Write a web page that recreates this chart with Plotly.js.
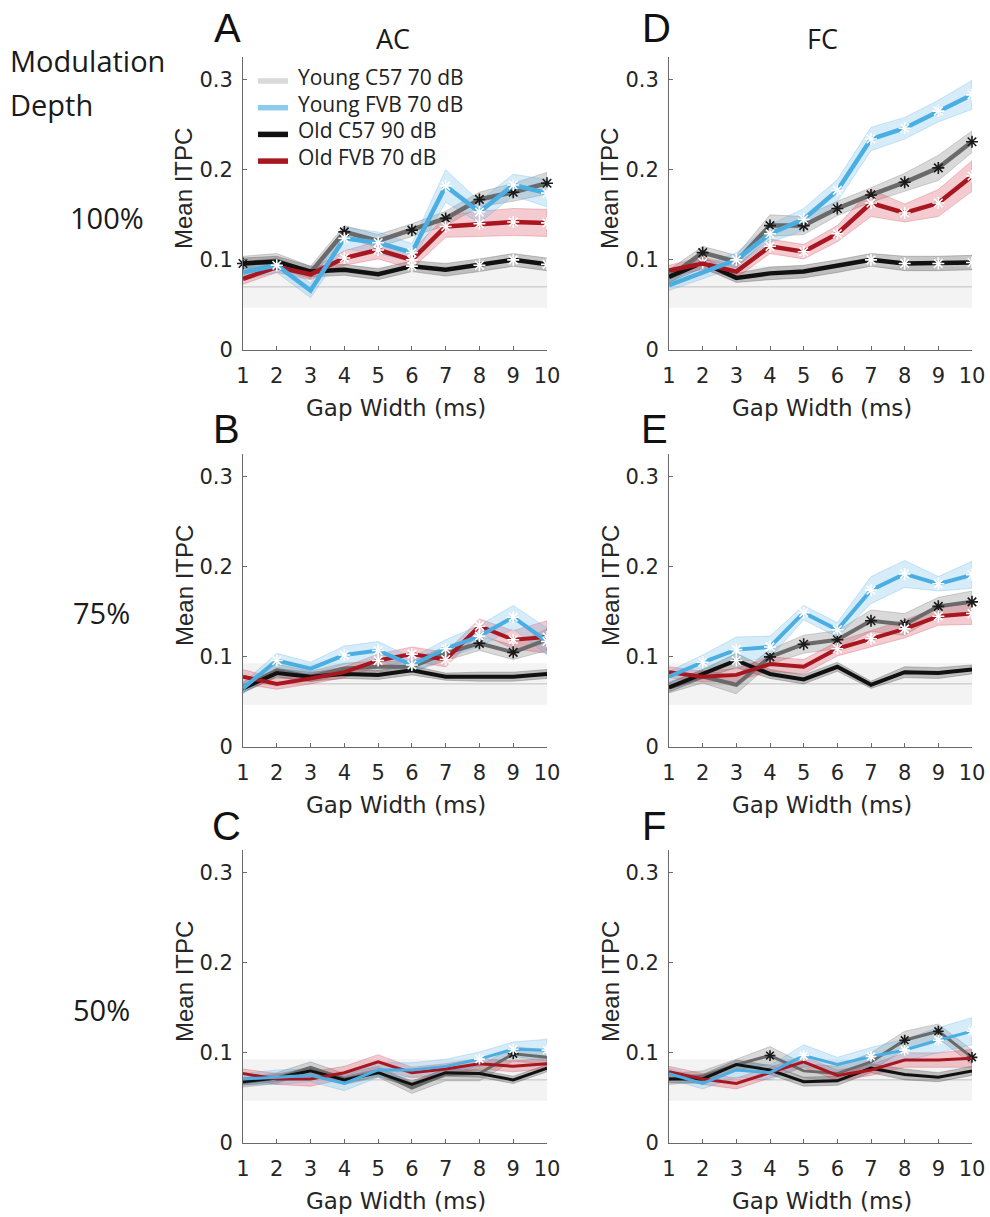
<!DOCTYPE html>
<html>
<head>
<meta charset="utf-8">
<script src="https://cdn.plot.ly/plotly-3.0.1.min.js"></script>
<style>
  html, body { margin: 0; padding: 0; background: #fff; }
  #chart { width: 990px; height: 1217px; }
</style>
</head>
<body>
<div id="chart"></div>
<script>
// ---- Gap widths (ms) and axis ticks ----
const gapWidths = [1, 2, 3, 4, 5, 6, 7, 8, 9, 10];
const yTickVals = [0, 0.1, 0.2, 0.3];
const yTickText = ['0', '0.1', '0.2', '0.3'];

// ---- Group names (legend) ----
const groupNames = ['Young C57 70 dB', 'Young FVB 70 dB', 'Old C57 90 dB', 'Old FVB 70 dB'];
const columnTitles = ['AC', 'FC'];
const depthLabels = ['100%', '75%', '50%'];
const panelLetters = ['A', 'D', 'B', 'E', 'C', 'F'];

// ---- Noise floor (shaded band + mean line) ----
const noiseFloorMean = 0.070;
const noiseFloorLower = 0.047;
const noiseFloorUpper = 0.093;

// ---- A: AC, 100% depth ----
const aYoungC57 = [0.096, 0.099, 0.086, 0.131, 0.121, 0.133, 0.146, 0.167, 0.175, 0.185];
const aYoungC57Sem = [0.008, 0.008, 0.007, 0.007, 0.007, 0.007, 0.008, 0.008, 0.010, 0.012];
const aYoungC57Sig = [1, 4, 6, 7, 8, 9, 10];
const aYoungFVB = [0.086, 0.094, 0.066, 0.124, 0.119, 0.108, 0.182, 0.153, 0.183, 0.174];
const aYoungFVBSem = [0.008, 0.008, 0.008, 0.012, 0.012, 0.010, 0.018, 0.012, 0.012, 0.015];
const aYoungFVBSig = [2, 4, 5, 6, 7, 8, 9, 10];
const aOldC57 = [0.096, 0.098, 0.087, 0.089, 0.084, 0.093, 0.089, 0.094, 0.100, 0.095];
const aOldC57Sem = [0.006, 0.006, 0.006, 0.006, 0.006, 0.006, 0.007, 0.007, 0.007, 0.007];
const aOldC57Sig = [6, 8, 9, 10];
const aOldFVB = [0.079, 0.092, 0.084, 0.102, 0.111, 0.100, 0.137, 0.140, 0.142, 0.141];
const aOldFVBSem = [0.006, 0.006, 0.006, 0.008, 0.010, 0.010, 0.012, 0.014, 0.015, 0.015];
const aOldFVBSig = [4, 5, 6, 7, 8, 9, 10];

// ---- D: FC, 100% depth ----
const dYoungC57 = [0.081, 0.108, 0.098, 0.138, 0.138, 0.157, 0.172, 0.186, 0.202, 0.231];
const dYoungC57Sem = [0.008, 0.007, 0.007, 0.012, 0.010, 0.008, 0.008, 0.010, 0.014, 0.012];
const dYoungC57Sig = [2, 4, 5, 6, 7, 8, 9, 10];
const dYoungFVB = [0.072, 0.086, 0.100, 0.129, 0.145, 0.177, 0.234, 0.246, 0.265, 0.283];
const dYoungFVBSem = [0.006, 0.007, 0.008, 0.010, 0.012, 0.012, 0.013, 0.012, 0.012, 0.016];
const dYoungFVBSig = [3, 4, 5, 6, 7, 8, 9, 10];
const dOldC57 = [0.081, 0.097, 0.080, 0.085, 0.087, 0.093, 0.100, 0.096, 0.096, 0.097];
const dOldC57Sem = [0.006, 0.006, 0.005, 0.007, 0.007, 0.007, 0.007, 0.008, 0.008, 0.008];
const dOldC57Sig = [2, 7, 8, 9, 10];
const dOldFVB = [0.088, 0.096, 0.087, 0.115, 0.109, 0.129, 0.163, 0.152, 0.163, 0.193];
const dOldFVBSem = [0.006, 0.007, 0.007, 0.008, 0.008, 0.009, 0.015, 0.010, 0.015, 0.017];
const dOldFVBSig = [4, 5, 6, 7, 8, 9, 10];

// ---- B: AC, 75% depth ----
const bYoungC57 = [0.066, 0.085, 0.078, 0.087, 0.089, 0.089, 0.104, 0.115, 0.105, 0.119];
const bYoungC57Sem = [0.006, 0.007, 0.006, 0.006, 0.006, 0.006, 0.008, 0.008, 0.008, 0.012];
const bYoungC57Sig = [8, 9];
const bYoungFVB = [0.065, 0.096, 0.087, 0.102, 0.107, 0.091, 0.109, 0.123, 0.144, 0.117];
const bYoungFVBSem = [0.006, 0.008, 0.007, 0.010, 0.010, 0.008, 0.010, 0.012, 0.013, 0.015];
const bYoungFVBSig = [2, 4, 5, 6, 7, 8, 9, 10];
const bOldC57 = [0.065, 0.082, 0.078, 0.081, 0.080, 0.085, 0.078, 0.078, 0.078, 0.081];
const bOldC57Sem = [0.004, 0.005, 0.005, 0.005, 0.005, 0.005, 0.004, 0.005, 0.005, 0.005];
const bOldC57Sig = [];
const bOldFVB = [0.078, 0.070, 0.076, 0.083, 0.096, 0.103, 0.097, 0.134, 0.119, 0.122];
const bOldFVBSem = [0.008, 0.006, 0.006, 0.006, 0.007, 0.008, 0.008, 0.008, 0.010, 0.018];
const bOldFVBSig = [5, 6, 7, 8, 9, 10];

// ---- E: FC, 75% depth ----
const eYoungC57 = [0.066, 0.078, 0.069, 0.100, 0.114, 0.119, 0.140, 0.136, 0.156, 0.161];
const eYoungC57Sem = [0.006, 0.007, 0.010, 0.008, 0.010, 0.010, 0.012, 0.012, 0.010, 0.012];
const eYoungC57Sig = [4, 5, 6, 7, 8, 9, 10];
const eYoungFVB = [0.078, 0.094, 0.108, 0.111, 0.149, 0.130, 0.174, 0.192, 0.181, 0.191];
const eYoungFVBSem = [0.006, 0.008, 0.014, 0.012, 0.008, 0.008, 0.015, 0.015, 0.008, 0.015];
const eYoungFVBSig = [2, 3, 4, 5, 6, 7, 8, 9, 10];
const eOldC57 = [0.066, 0.081, 0.096, 0.081, 0.075, 0.089, 0.069, 0.083, 0.082, 0.086];
const eOldC57Sem = [0.005, 0.005, 0.008, 0.005, 0.005, 0.005, 0.004, 0.006, 0.006, 0.005];
const eOldC57Sig = [3];
const eOldFVB = [0.083, 0.078, 0.080, 0.092, 0.089, 0.109, 0.120, 0.131, 0.145, 0.148];
const eOldFVBSem = [0.006, 0.006, 0.007, 0.008, 0.008, 0.008, 0.009, 0.010, 0.010, 0.012];
const eOldFVBSig = [6, 7, 8, 9, 10];

// ---- C: AC, 50% depth ----
const cYoungC57 = [0.067, 0.072, 0.084, 0.071, 0.079, 0.061, 0.076, 0.077, 0.099, 0.095];
const cYoungC57Sem = [0.005, 0.006, 0.006, 0.006, 0.006, 0.006, 0.007, 0.008, 0.008, 0.008];
const cYoungC57Sig = [9];
const cYoungFVB = [0.071, 0.073, 0.075, 0.066, 0.081, 0.081, 0.085, 0.093, 0.104, 0.103];
const cYoungFVBSem = [0.006, 0.008, 0.007, 0.008, 0.008, 0.008, 0.008, 0.008, 0.008, 0.012];
const cYoungFVBSig = [8, 9, 10];
const cOldC57 = [0.068, 0.072, 0.080, 0.070, 0.078, 0.065, 0.078, 0.077, 0.070, 0.083];
const cOldC57Sem = [0.004, 0.004, 0.004, 0.004, 0.004, 0.004, 0.004, 0.004, 0.004, 0.004];
const cOldC57Sig = [];
const cOldFVB = [0.077, 0.071, 0.071, 0.078, 0.090, 0.078, 0.082, 0.088, 0.085, 0.088];
const cOldFVBSem = [0.005, 0.006, 0.008, 0.007, 0.008, 0.006, 0.006, 0.006, 0.006, 0.006];
const cOldFVBSig = [];

// ---- F: FC, 50% depth ----
const fYoungC57 = [0.071, 0.074, 0.087, 0.097, 0.080, 0.077, 0.090, 0.114, 0.124, 0.095];
const fYoungC57Sem = [0.006, 0.006, 0.006, 0.010, 0.008, 0.008, 0.010, 0.010, 0.008, 0.008];
const fYoungC57Sig = [4, 8, 9, 10];
const fYoungFVB = [0.077, 0.066, 0.081, 0.078, 0.097, 0.087, 0.096, 0.103, 0.114, 0.124];
const fYoungFVBSem = [0.006, 0.006, 0.008, 0.008, 0.012, 0.008, 0.010, 0.012, 0.014, 0.015];
const fYoungFVBSig = [5, 7, 8, 9, 10];
const fOldC57 = [0.071, 0.071, 0.087, 0.081, 0.068, 0.069, 0.083, 0.076, 0.073, 0.080];
const fOldC57Sem = [0.004, 0.005, 0.005, 0.005, 0.005, 0.005, 0.005, 0.006, 0.005, 0.005];
const fOldC57Sig = [];
const fOldFVB = [0.079, 0.071, 0.066, 0.078, 0.090, 0.075, 0.081, 0.092, 0.092, 0.094];
const fOldFVBSem = [0.006, 0.006, 0.006, 0.006, 0.006, 0.006, 0.006, 0.008, 0.008, 0.010];
const fOldFVBSig = [];

// ---- Styling ----
const W = 990, H = 1217;
const STYLE = [
  { line: '#6a6a6a', band: 'rgba(120,120,120,0.28)', edge: 'rgba(100,100,100,0.45)', mark: '#1a1a1a', legend: '#d9d9d9' },
  { line: '#4aaee3', band: 'rgba(95,182,232,0.26)', edge: 'rgba(80,170,225,0.45)', mark: '#ffffff', legend: '#8ccbeb' },
  { line: '#111111', band: 'rgba(70,70,70,0.30)', edge: 'rgba(60,60,60,0.45)', mark: '#ffffff', legend: '#111111' },
  { line: '#a8161f', band: 'rgba(215,70,85,0.28)', edge: 'rgba(200,60,75,0.45)', mark: '#ffffff', legend: '#a8161f' }
];
// drawing order of line traces: Young C57, Old C57, Old FVB, Young FVB
const LINE_ORDER = [0, 2, 3, 1];

// plot boxes in pixels: [left, right] columns and [top, bottom] rows
const COLS = [[243, 547], [669, 972]];
const ROWS = [[57, 350], [454, 747], [850, 1143]];

const panels = [
  { ax: '', row: 0, col: 0, lw: 4.5, series: [
    [aYoungC57, aYoungC57Sem, aYoungC57Sig], [aYoungFVB, aYoungFVBSem, aYoungFVBSig],
    [aOldC57, aOldC57Sem, aOldC57Sig], [aOldFVB, aOldFVBSem, aOldFVBSig]] },
  { ax: '2', row: 0, col: 1, lw: 4.5, series: [
    [dYoungC57, dYoungC57Sem, dYoungC57Sig], [dYoungFVB, dYoungFVBSem, dYoungFVBSig],
    [dOldC57, dOldC57Sem, dOldC57Sig], [dOldFVB, dOldFVBSem, dOldFVBSig]] },
  { ax: '3', row: 1, col: 0, lw: 4, series: [
    [bYoungC57, bYoungC57Sem, bYoungC57Sig], [bYoungFVB, bYoungFVBSem, bYoungFVBSig],
    [bOldC57, bOldC57Sem, bOldC57Sig], [bOldFVB, bOldFVBSem, bOldFVBSig]] },
  { ax: '4', row: 1, col: 1, lw: 4, series: [
    [eYoungC57, eYoungC57Sem, eYoungC57Sig], [eYoungFVB, eYoungFVBSem, eYoungFVBSig],
    [eOldC57, eOldC57Sem, eOldC57Sig], [eOldFVB, eOldFVBSem, eOldFVBSig]] },
  { ax: '5', row: 2, col: 0, lw: 3, series: [
    [cYoungC57, cYoungC57Sem, cYoungC57Sig], [cYoungFVB, cYoungFVBSem, cYoungFVBSig],
    [cOldC57, cOldC57Sem, cOldC57Sig], [cOldFVB, cOldFVBSem, cOldFVBSig]] },
  { ax: '6', row: 2, col: 1, lw: 3, series: [
    [fYoungC57, fYoungC57Sem, fYoungC57Sig], [fYoungFVB, fYoungFVBSem, fYoungFVBSig],
    [fOldC57, fOldC57Sem, fOldC57Sig], [fOldFVB, fOldFVBSem, fOldFVBSig]] }
];

const px = x => x / W;
const py = y => 1 - y / H;

const traces = [];
const layout = {
  width: W, height: H,
  margin: { l: 0, r: 0, t: 0, b: 0 },
  paper_bgcolor: '#ffffff', plot_bgcolor: '#ffffff',
  showlegend: false,
  annotations: [],
  shapes: [],
  hovermode: false
};

const tickFont = { family: 'DejaVu Sans, sans-serif', size: 21, color: '#262626' };
const xTitleFont = { family: 'DejaVu Sans, sans-serif', size: 23, color: '#262626' };
const yTitleFont = { family: 'Liberation Sans, Arial, sans-serif', size: 24, color: '#262626' };
const sideFont = { family: 'Open Sans, sans-serif', size: 29, color: '#1a1a1a' };
const colFont = { family: 'Open Sans, sans-serif', size: 27, color: '#1a1a1a' };

panels.forEach(p => {
  const xa = 'x' + p.ax, ya = 'y' + p.ax;
  const [l, r] = COLS[p.col];
  const [t, b] = ROWS[p.row];
  layout['xaxis' + p.ax] = {
    domain: [px(l), px(r)], anchor: ya, range: [1, 10],
    tickvals: gapWidths, ticktext: gapWidths.map(String),
    showline: true, linecolor: '#6a6a6a', linewidth: 1,
    ticks: 'inside', ticklen: 4, tickcolor: '#6a6a6a', tickwidth: 1,
    ticklabelstandoff: 7,
    showgrid: false, zeroline: false, tickfont: tickFont, fixedrange: true
  };
  layout['yaxis' + p.ax] = {
    domain: [py(b), py(t)], anchor: xa, range: [0, 0.325],
    tickvals: yTickVals, ticktext: yTickText,
    showline: true, linecolor: '#6a6a6a', linewidth: 1,
    ticks: 'inside', ticklen: 4, tickcolor: '#6a6a6a', tickwidth: 1,
    ticklabelstandoff: 5,
    showgrid: false, zeroline: false, tickfont: tickFont, fixedrange: true
  };

  // noise floor band and its mean line
  const x0 = gapWidths[0], x1 = gapWidths[gapWidths.length - 1];
  traces.push({
    type: 'scatter', xaxis: xa, yaxis: ya, mode: 'lines',
    x: [x0, x1, x1, x0], y: [noiseFloorUpper, noiseFloorUpper, noiseFloorLower, noiseFloorLower],
    fill: 'toself', fillcolor: 'rgba(200,200,200,0.22)', line: { width: 0 },
    showlegend: false, hoverinfo: 'skip'
  });
  traces.push({
    type: 'scatter', xaxis: xa, yaxis: ya, mode: 'lines',
    x: [x0, x1], y: [noiseFloorMean, noiseFloorMean],
    line: { color: 'rgba(170,170,170,0.7)', width: 1 },
    showlegend: false, hoverinfo: 'skip'
  });

  // shaded SEM bands
  LINE_ORDER.forEach(k => {
    const [m, s] = p.series[k];
    const up = m.map((v, i) => v + s[i]);
    const lo = m.map((v, i) => v - s[i]);
    traces.push({
      type: 'scatter', xaxis: xa, yaxis: ya, mode: 'lines',
      x: gapWidths.concat(gapWidths.slice().reverse()),
      y: up.concat(lo.slice().reverse()),
      fill: 'toself', fillcolor: STYLE[k].band,
      line: { color: STYLE[k].edge, width: 0.6 },
      showlegend: false, hoverinfo: 'skip'
    });
  });

  // mean lines and marked points
  LINE_ORDER.forEach(k => {
    const [m, , sig] = p.series[k];
    traces.push({
      type: 'scatter', xaxis: xa, yaxis: ya, mode: 'lines',
      x: gapWidths, y: m,
      line: { color: STYLE[k].line, width: p.lw },
      showlegend: false, hoverinfo: 'skip'
    });
    if (sig.length) {
      traces.push({
        type: 'scatter', xaxis: xa, yaxis: ya, mode: 'markers',
        x: sig, y: sig.map(g => m[gapWidths.indexOf(g)]),
        marker: { symbol: 'asterisk-open', size: p.lw > 3 ? 10 : 9,
                  color: STYLE[k].mark, line: { color: STYLE[k].mark, width: 1.6 } },
        cliponaxis: false, showlegend: false, hoverinfo: 'skip'
      });
    }
  });

  // axis titles
  layout.annotations.push({
    xref: 'paper', yref: 'paper', x: px((l + r) / 2 + 1), y: py(b + 58),
    xanchor: 'center', yanchor: 'middle', showarrow: false,
    text: 'Gap Width (ms)', font: xTitleFont
  });
  layout.annotations.push({
    xref: 'paper', yref: 'paper', x: px(l - 59), y: py(t + 132),
    xanchor: 'center', yanchor: 'middle', showarrow: false, textangle: -90,
    text: 'Mean ITPC', font: yTitleFont
  });
});

// legend in panel A: colour swatches and group names
groupNames.forEach((name, k) => {
  const rowY = 78 + 26.7 * k;
  layout.shapes.push({
    type: 'line', xref: 'paper', yref: 'paper',
    x0: px(258), x1: px(288), y0: py(rowY + 3), y1: py(rowY + 3),
    line: { color: STYLE[k].legend, width: 5.5 }
  });
  layout.annotations.push({
    xref: 'paper', yref: 'paper', x: px(296), y: py(rowY - 1),
    xanchor: 'left', yanchor: 'middle', showarrow: false, text: name,
    font: { family: 'Open Sans, sans-serif', size: 21, color: '#222222' }
  });
});

// panel letters
const letterPos = [[227, 28], [656, 28], [226, 429], [654, 429], [226, 826], [654, 826]];
panelLetters.forEach((s, i) => {
  layout.annotations.push({
    xref: 'paper', yref: 'paper', x: px(letterPos[i][0]), y: py(letterPos[i][1]),
    xanchor: 'center', yanchor: 'middle', showarrow: false,
    text: s, font: { family: 'Liberation Sans, Arial, sans-serif', size: 40, color: '#111111' }
  });
});

// column titles
const colTitlePos = [[393, 39], [822, 39]];
columnTitles.forEach((s, i) => {
  layout.annotations.push({
    xref: 'paper', yref: 'paper', x: px(colTitlePos[i][0]), y: py(colTitlePos[i][1]),
    xanchor: 'center', yanchor: 'middle', showarrow: false, text: s, font: colFont
  });
});

// row labels
layout.annotations.push({
  xref: 'paper', yref: 'paper', x: px(8), y: py(60), xanchor: 'left', yanchor: 'middle',
  showarrow: false, text: 'Modulation', font: sideFont
});
layout.annotations.push({
  xref: 'paper', yref: 'paper', x: px(8), y: py(105), xanchor: 'left', yanchor: 'middle',
  showarrow: false, text: 'Depth', font: sideFont
});
const depthPos = [[107, 217], [101, 612], [101, 1009]];
depthLabels.forEach((s, i) => {
  layout.annotations.push({
    xref: 'paper', yref: 'paper', x: px(depthPos[i][0]), y: py(depthPos[i][1]),
    xanchor: 'center', yanchor: 'middle', showarrow: false, text: s, font: sideFont
  });
});

Plotly.newPlot('chart', traces, layout, { staticPlot: true, displayModeBar: false });
</script>
</body>
</html>
